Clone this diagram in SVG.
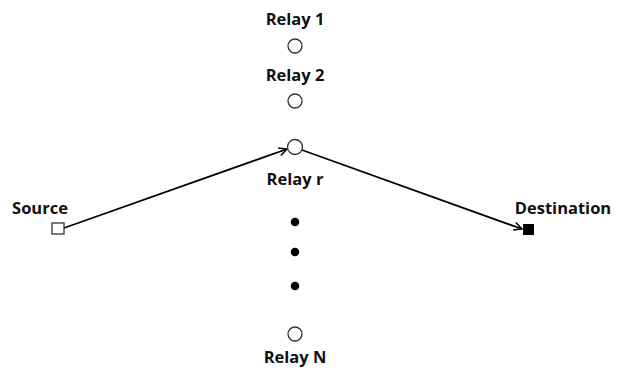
<svg xmlns="http://www.w3.org/2000/svg" width="625" height="370" viewBox="0 0 625 370">
<style>
text{font-family:"Open Sans","Liberation Sans",sans-serif;font-weight:bold;font-size:16.5px;fill:#111;text-anchor:middle}
.relay{fill:#fff;stroke:#333;stroke-width:1.3}
.dot{fill:#000}
.conn{stroke:#000;stroke-width:1.8;fill:none;marker-end:url(#ah)}
</style>
<defs>
<marker id="ah" markerWidth="10" markerHeight="10" refX="9" refY="5" orient="auto" markerUnits="userSpaceOnUse">
<path d="M1,1 L9,5 L1,9" fill="none" stroke="#000" stroke-width="1.5"/>
</marker>
</defs>
<rect width="625" height="370" fill="#fff"/>
<g id="connectors">
<line class="conn" x1="64" y1="228" x2="287" y2="149"/>
<line class="conn" x1="302" y1="150" x2="522" y2="229"/>
</g>
<g id="relay1"><text x="295" y="25">Relay 1</text><circle class="relay" cx="295" cy="46" r="7"/></g>
<g id="relay2"><text x="295" y="81">Relay 2</text><circle class="relay" cx="295" cy="101" r="7"/></g>
<g id="relayr"><circle class="relay" cx="295" cy="147" r="7.5"/><text x="295" y="185">Relay r</text></g>
<g id="dots"><circle class="dot" cx="295" cy="222" r="4.3"/><circle class="dot" cx="295" cy="252" r="4.3"/><circle class="dot" cx="295" cy="286" r="4.3"/></g>
<g id="relayN"><circle class="relay" cx="295" cy="334" r="7"/><text x="295" y="363">Relay N</text></g>
<g id="source"><text x="40" y="214">Source</text><rect x="52" y="223" width="12" height="11" fill="#fff" stroke="#333" stroke-width="1.3"/></g>
<g id="destination"><text x="563" y="214">Destination</text><rect x="523" y="224" width="11" height="11" fill="#000"/></g>
</svg>
